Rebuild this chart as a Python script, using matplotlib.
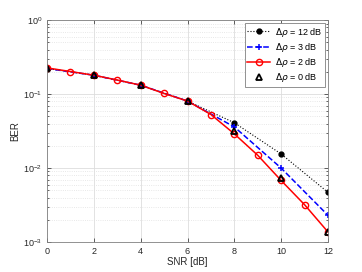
import numpy as np
import matplotlib
matplotlib.use('Agg')
import matplotlib.pyplot as plt

plt.rcParams['font.family'] = ['Liberation Sans', 'DejaVu Sans']
plt.rcParams['mathtext.fontset'] = 'dejavusans'

snr_even = [0, 2, 4, 6, 8, 10, 12]
snr_all = [0, 1, 2, 3, 4, 5, 6, 7, 8, 9, 10, 11, 12]

ber_12db = [0.222, 0.18, 0.132, 0.0805, 0.041, 0.0155, 0.0047]
ber_3db = [0.222, 0.18, 0.132, 0.0805, 0.036, 0.0100, 0.0023]
ber_2db = [0.226, 0.202, 0.18, 0.155, 0.132, 0.102, 0.0805, 0.053, 0.029, 0.0149, 0.0068, 0.0032, 0.00137]
ber_0db = [0.222, 0.18, 0.132, 0.0805, 0.032, 0.0073, 0.00137]

fig = plt.figure(figsize=(3.62, 2.72), dpi=100)
ax = fig.add_axes([0.13, 0.11, 0.776, 0.816])

ax.semilogy(snr_even, ber_12db, ':', color='black', marker='o', markersize=3.5, linewidth=0.8,
            label=r'$\Delta\rho$ = 12 dB')
ax.semilogy(snr_even, ber_3db, '--', color='blue', marker='+', markersize=5, linewidth=1.1,
            markeredgewidth=1.1, label=r'$\Delta\rho$ = 3 dB')
ax.semilogy(snr_all, ber_2db, '-', color='red', marker='o', markersize=4.5, linewidth=1.1,
            markerfacecolor='none', label=r'$\Delta\rho$ = 2 dB')
ax.semilogy(snr_even, ber_0db, linestyle='none', color='black', marker='^', markersize=5,
            markerfacecolor='none', markeredgewidth=1.3, label=r'$\Delta\rho$ = 0 dB')

ax.set_xlim(0, 12)
ax.set_ylim(1e-3, 1)
ax.set_xticks([0, 2, 4, 6, 8, 10, 12])
ax.set_xlabel('SNR [dB]', fontsize=7, color='#262626', labelpad=1)
ax.set_ylabel('BER', fontsize=7, color='#262626', labelpad=2)

ax.grid(True, which='major', color='#dddddd', linewidth=0.6)
ax.grid(True, which='minor', axis='y', color='#e0e0e0', linestyle=':', linewidth=0.6)
ax.tick_params(which='both', direction='in', top=True, right=True, labelsize=6.5,
               colors='#262626', width=0.5)
ax.tick_params(which='major', length=3)
ax.tick_params(which='minor', length=1.5)
for s in ax.spines.values():
    s.set_color('#808080')
    s.set_linewidth(0.6)

leg = ax.legend(loc='upper right', fontsize=6.5, fancybox=False, framealpha=1,
                edgecolor='#808080', borderpad=0.3, labelspacing=0.25, handlelength=2.5,
                handletextpad=0.6, borderaxespad=0.3)
leg.get_frame().set_linewidth(0.6)

fig.savefig('out.png', dpi=100)
